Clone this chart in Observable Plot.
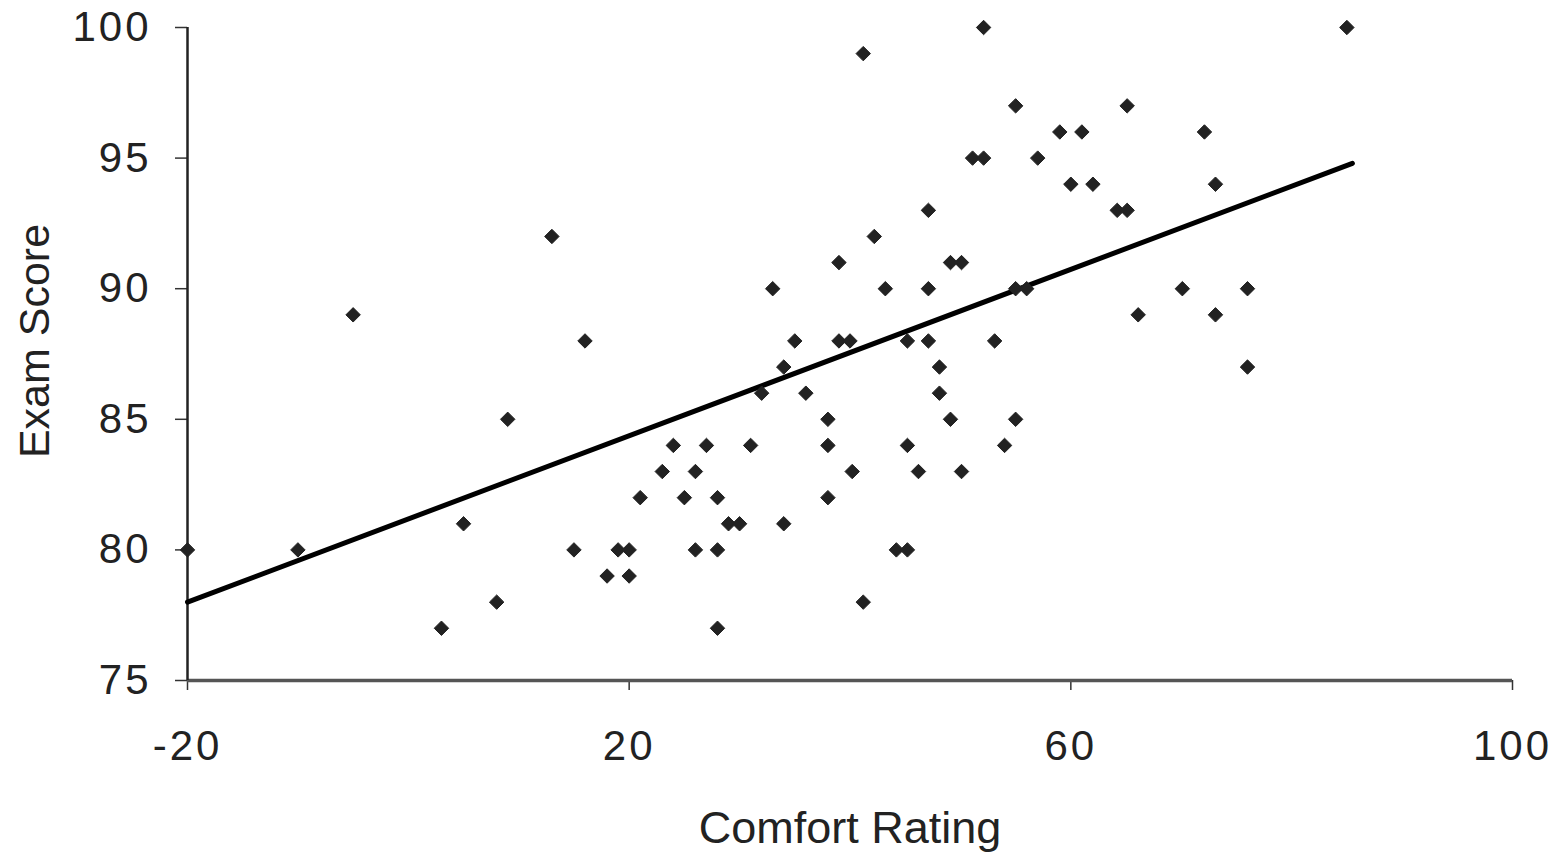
<!DOCTYPE html>
<html>
<head>
<meta charset="utf-8">
<script src="https://cdn.jsdelivr.net/npm/d3@7"></script>
<script src="https://cdn.jsdelivr.net/npm/@observablehq/plot@0.6"></script>
<style>
  html, body { margin: 0; padding: 0; background: #fff; }
  svg { font-family: "Liberation Sans", Arial, sans-serif; }
</style>
</head>
<body>
<div id="chart"></div>
<script>
// Comfort rating (x) and exam score (y) for each student
const comfort = [-20, -10, -5, 3, 5, 8, 9, 13, 15, 16, 18, 19, 20, 20, 21, 23, 24, 25, 26, 26,
  27, 28, 28, 28, 29, 30, 31, 32, 33, 34, 34, 35, 36, 38, 38, 38, 39, 39, 40, 40.2,
  41.2, 41.2, 42.2, 43.2, 44.2, 45.2, 45.2, 45.2, 46.2, 47.1, 47.1, 47.1, 48.1, 48.1, 49.1, 49.1, 50.1, 50.1,
  51.1, 52.1, 52.1, 53.1, 54, 55, 55, 55, 56, 57, 59, 60, 61, 62, 64.2, 65.1, 65.1, 66.1,
  70.1, 72.1, 73.1, 73.1, 76, 76, 85];
const exam = [80, 80, 89, 77, 81, 78, 85, 92, 80, 88, 79, 80, 80, 79, 82, 83, 84, 82, 83, 80,
  84, 82, 80, 77, 81, 81, 84, 86, 90, 87, 81, 88, 86, 85, 84, 82, 91, 88, 88, 83,
  99, 78, 92, 90, 80, 80, 84, 88, 83, 93, 90, 88, 87, 86, 85, 91, 91, 83,
  95, 95, 100, 88, 84, 97, 85, 90, 90, 95, 96, 94, 96, 94, 93, 93, 97, 89,
  90, 96, 94, 89, 90, 87, 100];
// Fitted trend line
const fitComfort = [-20, 85.5];
const fitExam = [78, 94.8];

const xTicks = [-20, 20, 60, 100];
const yTicks = [75, 80, 85, 90, 95, 100];
const xLabel = "Comfort Rating";
const yLabel = "Exam Score";

const points = comfort.map((c, i) => ({comfort: c, exam: exam[i]}));
const fit = fitComfort.map((c, i) => ({comfort: c, exam: fitExam[i]}));

const chart = Plot.plot({
  width: 1562,
  height: 854,
  marginLeft: 187,
  marginRight: 50,
  marginTop: 27,
  marginBottom: 174,
  style: {fontFamily: "Liberation Sans, Arial, sans-serif", color: "#222", background: "#fff"},
  x: {domain: [-20, 100]},
  y: {domain: [75, 100]},
  marks: [
    Plot.axisX({ticks: xTicks, tickSize: 10, tickPadding: 40, fontSize: 42, label: null, stroke: "#333", strokeWidth: 1.5, tickFormat: d => String(d)}),
    Plot.axisY({ticks: yTicks, tickSize: 12, tickPadding: 24, fontSize: 42, label: null, stroke: "#333", strokeWidth: 1.5}),
    Plot.ruleY([75], {stroke: "#555", strokeWidth: 3.5}),
    Plot.ruleX([-20], {stroke: "#222", strokeWidth: 2.5}),
    Plot.line(fit, {x: "comfort", y: "exam", stroke: "#000", strokeWidth: 5}),
    Plot.dot(points, {x: "comfort", y: "exam", symbol: "diamond2", r: 6.5, fill: "#222", stroke: "#222", strokeWidth: 1}),
    Plot.text([xLabel], {text: d => d, frameAnchor: "bottom", textAnchor: "middle", dy: 162, fontSize: 45, fill: "#222"}),
    Plot.text([yLabel], {text: d => d, frameAnchor: "left", textAnchor: "middle", dx: -152, dy: -13, rotate: -90, fontSize: 43, fill: "#222"})
  ]
});
chart.querySelectorAll("g[aria-label='x-axis tick label'] text, g[aria-label='y-axis tick label'] text").forEach(t => t.setAttribute("letter-spacing", "3"));
document.getElementById("chart").appendChild(chart);
</script>
</body>
</html>
